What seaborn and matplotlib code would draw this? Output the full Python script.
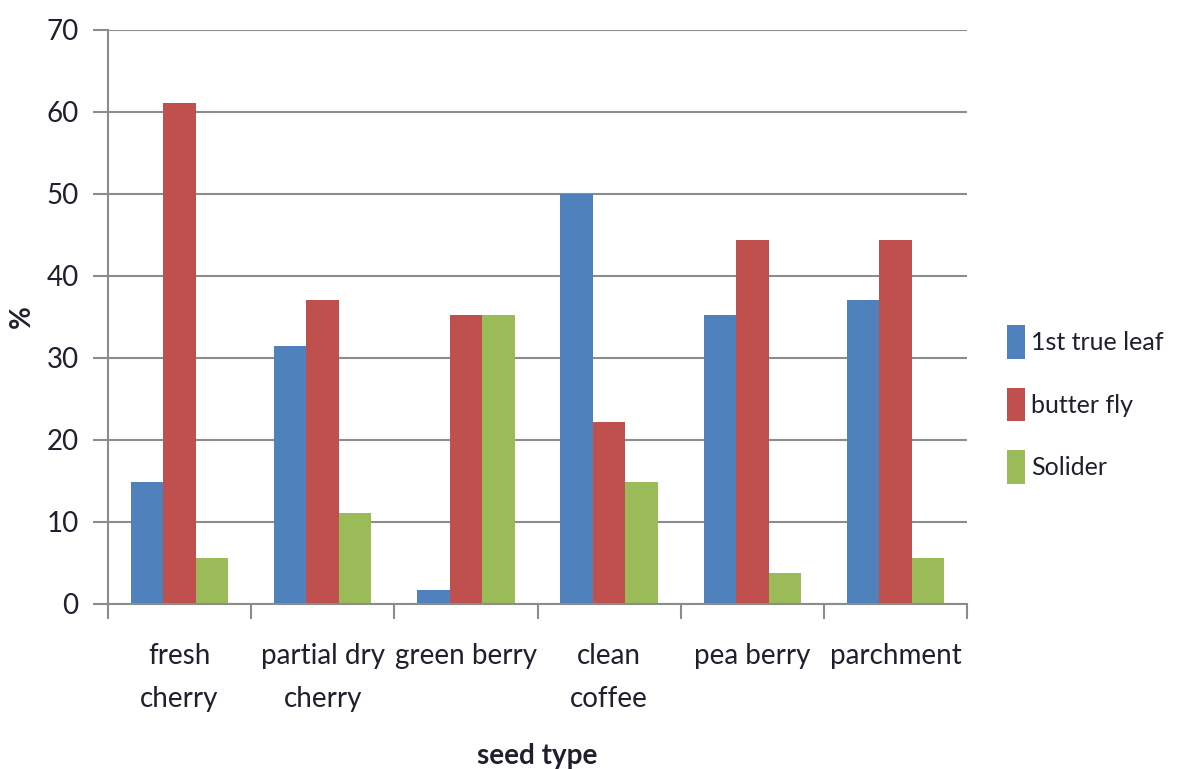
import pandas as pd
import matplotlib.pyplot as plt
import seaborn as sns
from matplotlib.ticker import FixedLocator

# values (%)
seed_types = ['fresh\ncherry', 'partial dry\ncherry', 'green berry', 'clean\ncoffee', 'pea berry', 'parchment']
first_true_leaf = [14.8, 31.5, 1.7, 50.0, 35.2, 37.0]
butter_fly = [61.1, 37.0, 35.2, 22.2, 44.4, 44.4]
solider = [5.6, 11.1, 35.2, 14.8, 3.7, 5.6]
series_names = ['1st true leaf', 'butter fly', 'Solider']
colors = ['#4F81BD', '#C0504D', '#9BBB59']

df = pd.DataFrame({
    'seed type': seed_types * 3,
    'value': first_true_leaf + butter_fly + solider,
    'stage': [s for s in series_names for _ in seed_types],
})

sns.set_style('white')
plt.rcParams['font.family'] = ['Lato', 'DejaVu Sans']
text_color = '#1f1f2e'

fig = plt.figure(figsize=(11.84, 7.69), dpi=100)
ax = fig.add_axes([0.091, 0.215, 0.726, 0.746])

sns.barplot(data=df, x='seed type', y='value', hue='stage', palette=colors,
            width=0.68, saturation=1, linewidth=0, ax=ax)

ax.set_ylim(0, 70)
ax.set_xlim(-0.5, len(seed_types) - 0.5)
ax.set_yticks(range(0, 71, 10))
ax.yaxis.grid(True, color='#8c8c8c', linewidth=1.5)
ax.set_axisbelow(True)

for side in ['top', 'right']:
    ax.spines[side].set_visible(False)
for side in ['left', 'bottom']:
    ax.spines[side].set_color('#8c8c8c')
    ax.spines[side].set_linewidth(1.5)

# ticks between categories, like the original
ax.xaxis.set_minor_locator(FixedLocator([i - 0.5 for i in range(len(seed_types) + 1)]))
ax.tick_params(axis='x', which='major', bottom=True, length=0, pad=28, labelsize=20,
               labelcolor=text_color)
ax.tick_params(axis='x', which='minor', bottom=True, length=11, width=1.5, color='#8c8c8c',
               direction='out')
ax.tick_params(axis='y', left=True, length=11, width=1.5, color='#8c8c8c', direction='out',
               labelsize=20, pad=10, labelcolor=text_color)
for lbl in ax.get_xticklabels():
    lbl.set_linespacing(1.85)

ax.set_xlabel('seed type', fontsize=20, fontweight='bold', labelpad=22, color=text_color)
ax.set_ylabel('%', fontsize=20, fontweight='bold', color=text_color)
ax.yaxis.set_label_coords(-0.085, 0.5)

ax.legend(loc='center left', bbox_to_anchor=(1.02, 0.347), frameon=False,
          fontsize=18, handlelength=0.7, handleheight=1.7, handletextpad=0.25,
          labelspacing=1.15, labelcolor=text_color)

fig.savefig('out.png', dpi=100)
